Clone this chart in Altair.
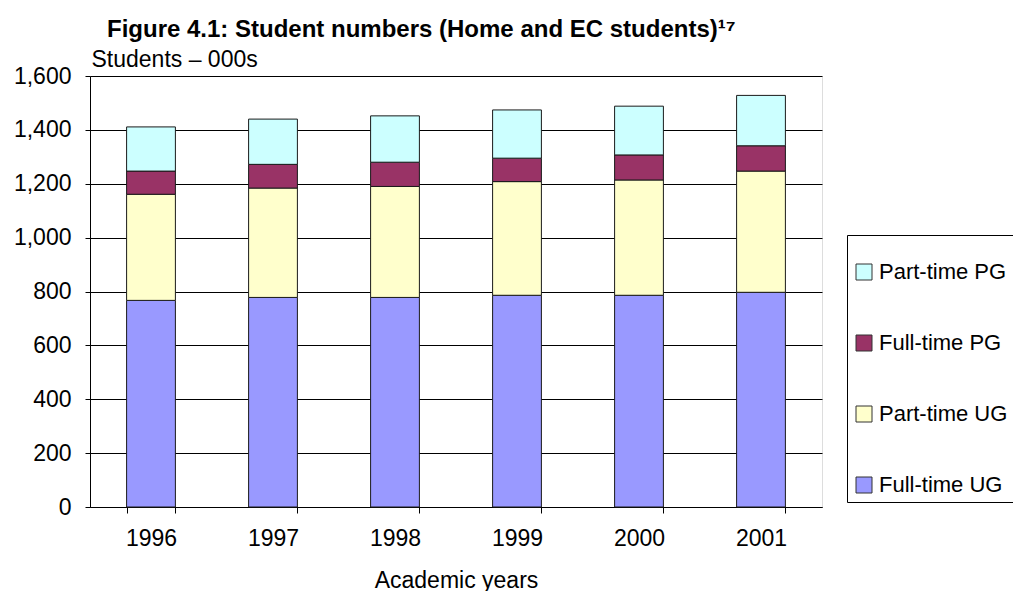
import altair as alt
import pandas as pd

# Academic years and student numbers (thousands) for each group
years = ["1996", "1997", "1998", "1999", "2000", "2001"]
full_time_ug = [767, 778, 778, 786, 786, 797]
part_time_ug = [394, 406, 412, 422, 428, 450]
full_time_pg = [86, 88, 90, 87, 93, 94]
part_time_pg = [164, 168, 172, 179, 181, 187]

# Stacking order from the baseline upward
groups = ["Full-time UG", "Part-time UG", "Full-time PG", "Part-time PG"]
series = [full_time_ug, part_time_ug, full_time_pg, part_time_pg]

# Legend lists the top segment first
legend_order = ["Part-time PG", "Full-time PG", "Part-time UG", "Full-time UG"]
legend_colors = ["#CCFFFF", "#993366", "#FFFFCC", "#9999FF"]

rows = []
for rank, (name, values) in enumerate(zip(groups, series)):
    for year, value in zip(years, values):
        rows.append({"year": year, "group": name, "students": value, "rank": rank})
df = pd.DataFrame(rows)

FONT = "Liberation Sans"
FS = 23

chart = (
    alt.Chart(df)
    .mark_bar(stroke="#1a1a1a", strokeWidth=1)
    .encode(
        x=alt.X(
            "year:N",
            title="Academic years",
            sort=years,
            scale=alt.Scale(paddingInner=0.6, paddingOuter=0.3),
            axis=alt.Axis(
                labelAngle=0,
                tickBand="extent",
                tickSize=6,
                labelPadding=14,
                titlePadding=19,
                domainColor="black",
                tickColor="black",
                labelColor="black",
                titleColor="black",
                labelFontSize=FS,
                titleFontSize=FS,
                titleFontWeight="normal",
                labelFont=FONT,
                titleFont=FONT,
                grid=False,
            ),
        ),
        y=alt.Y(
            "students:Q",
            stack="zero",
            scale=alt.Scale(domain=[0, 1600], nice=False),
            axis=alt.Axis(
                values=list(range(0, 1601, 200)),
                format=",d",
                title="Students – 000s",
                titleAngle=0,
                titleX=1,
                titleY=-10,
                titleAlign="left",
                titleBaseline="alphabetic",
                titleFontWeight="normal",
                titleFontSize=FS,
                titleFont=FONT,
                titleColor="black",
                labelFontSize=FS,
                labelFont=FONT,
                labelColor="black",
                labelPadding=14,
                tickSize=5,
                tickColor="black",
                domainColor="black",
                gridColor="black",
                gridWidth=1,
                gridOpacity=1,
            ),
        ),
        color=alt.Color(
            "group:N",
            scale=alt.Scale(domain=legend_order, range=legend_colors),
            legend=alt.Legend(
                orient="none",
                legendX=757,
                legendY=159,
                title=" ",
                titleFontSize=12,
                titlePadding=8,
                padding=6,
                strokeColor="black",
                fillColor="white",
                symbolType="square",
                symbolSize=256,
                symbolStrokeColor="#333333",
                symbolStrokeWidth=1,
                symbolOpacity=1,
                labelFontSize=22,
                labelFont=FONT,
                labelColor="black",
                labelOffset=4,
                rowPadding=49,
                labelLimit=300,
            ),
        ),
        order=alt.Order("rank:Q"),
    )
    .properties(
        width=732,
        height=431,
        padding={"left": 90, "top": 76, "right": 191, "bottom": 84},
        autosize=alt.AutoSizeParams(type="none"),
        title=alt.TitleParams(
            "Figure 4.1: Student numbers (Home and EC students)¹⁷",
            anchor="start",
            frame="group",
            dx=17,
            offset=6,
            fontSize=24,
            font=FONT,
            fontWeight="bold",
            color="black",
        ),
    )
    .configure_view(stroke=None)
    .configure(font=FONT, background="white")
)

chart.save("out.html", embed_options={"renderer": "svg", "actions": False})
